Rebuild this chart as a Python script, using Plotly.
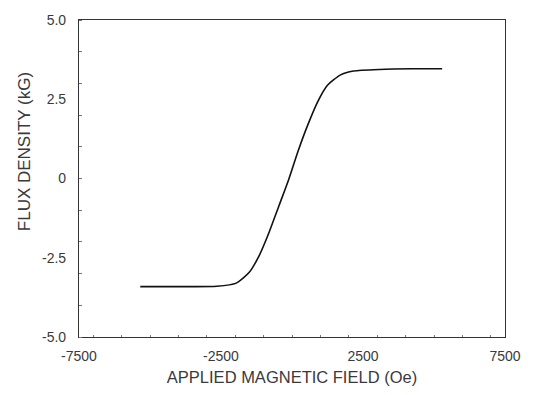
import plotly.graph_objects as go

field_oe = [-5343, -3795, -2650, -1962, -1504, -1160, -816, -472, -128, 216, 560,
            904, 1248, 1709, 2166, 3085, 4230, 5287]
flux_kg = [-3.41, -3.41, -3.40, -3.30, -2.96, -2.44, -1.72, -0.89, -0.06, 0.87, 1.70,
           2.42, 2.94, 3.27, 3.39, 3.44, 3.46, 3.46]

x_ticks = [-7500, -2500, 2500, 7500]
x_tick_text = ["-7500", "-2500", "2500", "7500"]
y_ticks = [-5.0, -2.5, 0, 2.5, 5.0]
y_tick_text = ["-5.0", "-2.5", "0", "2.5", "5.0"]

font_fam = "Liberation Sans, Arial, sans-serif"
txt_col = "#3a3a3a"

fig = go.Figure()
fig.add_trace(go.Scatter(
    x=field_oe, y=flux_kg, mode="lines",
    line=dict(color="#111111", width=1.6, shape="spline", smoothing=0.6),
    showlegend=False,
))

fig.update_layout(
    width=533, height=395,
    margin=dict(l=79, r=18, t=17, b=56),
    paper_bgcolor="white", plot_bgcolor="white",
    font=dict(family=font_fam, color=txt_col, size=14),
)
fig.update_xaxes(
    range=[-7500, 7500], tickvals=x_ticks, ticktext=x_tick_text,
    showgrid=False, zeroline=False, showline=True, mirror=True,
    linecolor="#333333", linewidth=1.2,
    ticks="", ticklabelstandoff=6, tickfont=dict(size=14, color=txt_col),
    minor=dict(dtick=1000, ticks="inside", ticklen=2, tickcolor="#777777"),
    title=dict(text="APPLIED MAGNETIC FIELD (Oe)", font=dict(size=16.5, color=txt_col), standoff=8),
)
fig.update_yaxes(
    range=[-5, 5], tickvals=y_ticks, ticktext=y_tick_text,
    showgrid=False, zeroline=False, showline=True, mirror=True,
    linecolor="#333333", linewidth=1.2,
    ticks="", ticklabelstandoff=9, tickfont=dict(size=14, color=txt_col),
    minor=dict(dtick=1, ticks="inside", ticklen=3, tickcolor="#777777"),
)
fig.add_annotation(
    text="FLUX DENSITY (kG)", textangle=-90, showarrow=False,
    xref="paper", yref="paper", x=-0.126, y=0.584,
    xanchor="center", yanchor="middle",
    font=dict(size=17, color=txt_col, family=font_fam),
)

fig.write_html("out.html")
